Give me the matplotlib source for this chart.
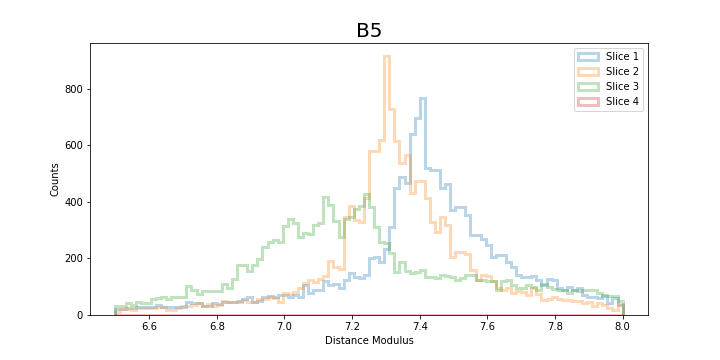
import numpy as np
import matplotlib
matplotlib.use("Agg")
import matplotlib.pyplot as plt

# histogram counts per bin, 100 bins between 6.5 and 8.0
slice1 = [20, 20, 23, 23, 27, 27, 27, 27, 37, 27,
          27, 30, 27, 30, 47, 41, 41, 32, 32, 41,
          38, 47, 47, 47, 50, 58, 62, 47, 50, 64,
          66, 64, 70, 70, 62, 70, 62, 105, 78, 88,
          90, 120, 105, 111, 94, 123, 150, 133, 131, 141,
          200, 205, 188, 235, 311, 448, 489, 467, 640, 698,
          766, 520, 513, 513, 449, 463, 370, 380, 380, 352,
          282, 282, 270, 246, 205, 211, 211, 188, 170, 141,
          133, 135, 137, 123, 106, 129, 123, 94, 88, 100,
          88, 94, 70, 64, 64, 59, 70, 43, 59, 35]

slice2 = [12, 20, 20, 18, 23, 23, 23, 25, 30, 27,
          17, 17, 25, 32, 32, 35, 43, 32, 38, 32,
          35, 50, 45, 47, 47, 53, 45, 47, 58, 55,
          62, 60, 47, 78, 74, 82, 97, 114, 123, 117,
          129, 137, 191, 170, 164, 345, 384, 335, 329, 413,
          580, 580, 620, 915, 728, 615, 537, 566, 433, 472,
          472, 415, 329, 293, 346, 317, 205, 223, 223, 217,
          158, 123, 141, 137, 120, 97, 90, 97, 76, 86,
          80, 71, 94, 74, 53, 55, 62, 55, 53, 53,
          50, 50, 43, 45, 32, 43, 35, 23, 18, 38]

slice3 = [32, 32, 43, 35, 46, 44, 43, 55, 61, 65,
          58, 62, 62, 62, 102, 90, 73, 86, 86, 86,
          86, 109, 94, 128, 176, 176, 156, 178, 197, 240,
          258, 264, 258, 313, 340, 325, 276, 290, 288, 317,
          325, 417, 390, 331, 276, 340, 346, 376, 385, 426,
          381, 311, 258, 255, 220, 152, 186, 155, 150, 153,
          158, 133, 135, 130, 141, 138, 133, 123, 130, 141,
          141, 125, 122, 121, 121, 90, 121, 123, 106, 94,
          97, 106, 100, 90, 111, 100, 93, 90, 88, 79,
          88, 84, 88, 90, 90, 76, 67, 67, 67, 50]

slice4 = [0] * 100

labels = ["Slice 1", "Slice 2", "Slice 3", "Slice 4"]
colors = ["tab:blue", "tab:orange", "tab:green", "tab:red"]

edges = np.linspace(6.5, 8.0, 101)
centers = (edges[:-1] + edges[1:]) / 2

fig, ax = plt.subplots(figsize=(10, 5), dpi=72)
fig.subplots_adjust(left=0.125, right=0.9, top=0.88, bottom=0.125)

for counts, label, color in zip([slice1, slice2, slice3, slice4], labels, colors):
    ax.hist(centers, bins=edges, weights=counts, histtype="step",
            lw=3, alpha=0.3, color=color, label=label)

ax.set_title("B5", fontsize=20)
ax.set_xlabel("Distance Modulus")
ax.set_ylabel("Counts")
ax.legend(loc="upper right")

fig.savefig("out.png", dpi=72)
